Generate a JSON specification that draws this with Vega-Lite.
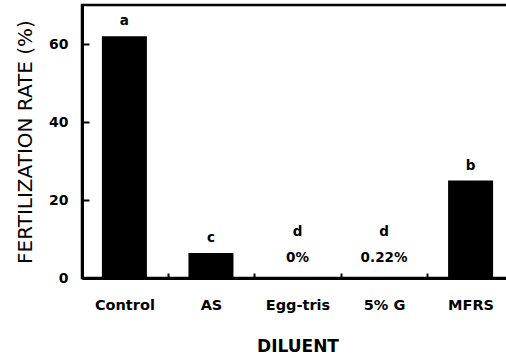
{
  "$schema": "https://vega.github.io/schema/vega-lite/v6.json",
  "autosize": "none",
  "width": 431,
  "height": 273,
  "padding": {"left": 82, "top": 5, "right": 0, "bottom": 80},
  "background": "white",
  "config": {
    "view": {"stroke": "black", "strokeWidth": 2.5},
    "font": "DejaVu Sans"
  },
  "data": {
    "values": [
      {"diluent": "Control", "rate": 62, "group": "a", "pct": ""},
      {"diluent": "AS", "rate": 6.4, "group": "c", "pct": ""},
      {"diluent": "Egg-tris", "rate": 0, "group": "d", "pct": "0%"},
      {"diluent": "5% G", "rate": 0.22, "group": "d", "pct": "0.22%"},
      {"diluent": "MFRS", "rate": 25, "group": "b", "pct": ""}
    ]
  },
  "encoding": {
    "x": {
      "field": "diluent",
      "type": "nominal",
      "sort": null,
      "scale": {"paddingInner": 0.48, "paddingOuter": 0.23},
      "axis": {
        "title": "DILUENT",
        "titleFontSize": 17,
        "titleFontWeight": "bold",
        "titleColor": "black",
        "titlePadding": 27,
        "labelAngle": 0,
        "labelFontSize": 14.5,
        "labelFontWeight": "bold",
        "labelColor": "black",
        "labelPadding": 25,
        "labelOffset": -43.27,
        "ticks": true,
        "tickBand": "center",
        "tickOffset": 43.27,
        "tickSize": -5,
        "tickColor": "black",
        "tickWidth": 2,
        "domainColor": "black",
        "domainWidth": 3
      }
    }
  },
  "layer": [
    {
      "mark": {"type": "bar", "color": "black"},
      "encoding": {
        "y": {
          "field": "rate",
          "type": "quantitative",
          "scale": {"domain": [0, 70], "nice": false},
          "axis": {
            "title": "FERTILIZATION RATE (%)",
            "titleFont": "DejaVu Sans",
            "titleFontSize": 20,
            "titleFontWeight": "normal",
            "titleColor": "black",
            "titlePadding": 13,
            "values": [0, 20, 40, 60],
            "grid": false,
            "labelFontSize": 14,
            "labelFontWeight": "bold",
            "labelColor": "black",
            "labelPadding": 21,
            "tickSize": -7,
            "tickColor": "black",
            "tickWidth": 2,
            "domainColor": "black",
            "domainWidth": 3
          }
        }
      }
    },
    {
      "transform": [{"filter": "datum.rate > 1"}],
      "mark": {"type": "text", "fontSize": 13.5, "fontWeight": "bold", "dy": -15, "color": "black"},
      "encoding": {
        "y": {"field": "rate", "type": "quantitative"},
        "text": {"field": "group"}
      }
    },
    {
      "transform": [{"filter": "datum.rate <= 1"}],
      "mark": {"type": "text", "fontSize": 13.5, "fontWeight": "bold", "color": "black"},
      "encoding": {
        "y": {"datum": 11.8},
        "text": {"field": "group"}
      }
    },
    {
      "transform": [{"filter": "datum.rate <= 1"}],
      "mark": {"type": "text", "fontSize": 13.5, "fontWeight": "bold", "color": "black"},
      "encoding": {
        "y": {"datum": 5.1},
        "text": {"field": "pct"}
      }
    }
  ]
}
